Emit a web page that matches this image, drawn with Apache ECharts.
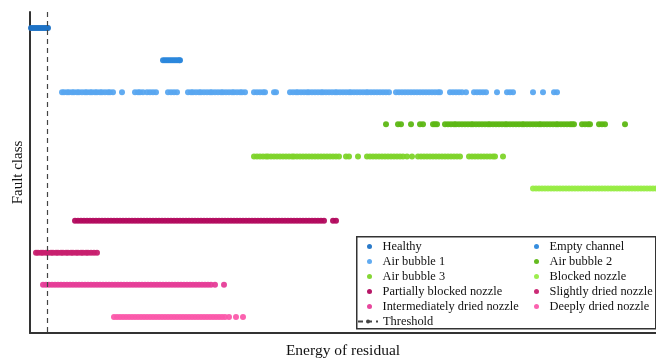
<!DOCTYPE html>
<html>
<head>
<meta charset="utf-8">
<script src="https://cdn.jsdelivr.net/npm/echarts@6/dist/echarts.min.js"></script>
<style>html,body{margin:0;padding:0;background:#fff}#c{width:656px;height:358px}</style>
</head>
<body>
<div id="c"></div>
<script>
const categories = ['Healthy','Empty channel','Air bubble 1','Air bubble 2','Air bubble 3','Blocked nozzle','Partially blocked nozzle','Slightly dried nozzle','Intermediately dried nozzle','Deeply dried nozzle'];
const colors = ['#1f73c6','#2b87dc','#58a6f0','#5db714','#7ed42a','#98ec45','#b20a5e','#c8206f','#e63d98','#fb5aab'];
const thresholdValues = [17];

const healthy = [1,3,5,7,9,11,13,15,17,18];
const emptyChannel = [133,135,137,139,141,143,145,147,149,150];
const airBubble1 = [32,34,37,39,42,44,47,49,52,55,57,60,62,65,67,70,72,75,78,80,83,92,105,108,110,113,117,120,123,126,138,141,144,147,158,161,163,166,169,171,174,177,180,182,185,188,191,193,196,199,202,204,207,210,212,215,224,227,230,233,235,244,246,260,263,266,268,271,274,277,279,282,285,288,291,293,296,299,302,305,307,310,313,316,319,321,324,327,330,333,336,338,341,344,347,350,353,356,359,366,369,372,375,378,381,384,387,390,393,396,399,402,405,408,410,420,423,426,429,432,436,444,447,450,453,456,467,477,480,483,503,513,524,527];
const airBubble2 = [356,368,371,381,390,393,403,405,407,415,418,421,424,426,429,432,435,438,441,443,446,449,452,455,458,460,463,466,469,472,475,477,480,483,486,489,492,494,497,500,503,506,509,511,514,517,520,523,526,528,531,534,537,540,542,544,552,555,558,560,569,572,575,595];
const airBubble3 = [224,227,230,233,236,238,241,244,247,250,253,256,259,262,264,267,270,273,276,279,282,285,288,291,294,297,300,303,306,309,316,319,328,337,340,343,346,349,352,355,358,361,364,367,370,373,377,382,388,391,394,397,400,403,406,409,412,415,418,421,424,427,430,439,442,445,448,451,454,457,460,463,465,473];
const blockedNozzle = [503,506,509,512,515,518,521,524,527,530,533,536,539,542,545,548,551,554,557,560,563,566,569,572,575,578,581,584,587,590,593,596,599,602,605,608,611,614,617,620,623,626];
const partiallyBlocked = [45,48,51,54,57,60,63,66,69,72,75,78,81,84,87,90,93,96,99,102,105,108,111,114,117,120,123,126,129,132,135,138,141,144,147,150,153,156,159,162,165,168,171,174,177,180,183,186,189,192,195,198,201,204,207,210,213,216,219,222,225,228,231,234,237,240,243,246,249,252,255,258,261,264,267,270,273,276,279,282,285,288,291,294,303,306];
const slightlyDried = [6,8,11,13,16,18,21,23,26,28,31,33,36,38,41,43,46,48,51,53,56,58,61,64,67];
const intermediatelyDried = [13,16,19,22,25,28,31,34,37,40,43,46,49,52,55,58,61,64,67,70,73,76,79,82,85,88,91,94,97,100,103,106,109,112,115,118,121,124,127,130,133,136,139,142,145,148,151,154,157,160,163,166,169,172,175,178,181,185,194];
const deeplyDried = [84,87,90,93,96,99,102,105,108,111,114,117,120,123,126,129,132,135,138,141,144,147,150,153,156,159,162,165,168,171,174,177,180,183,186,189,192,195,199,206,213];

const seriesValues = [healthy, emptyChannel, airBubble1, airBubble2, airBubble3, blockedNozzle, partiallyBlocked, slightlyDried, intermediatelyDried, deeplyDried];

const FONT = 'Liberation Serif';
const chart = echarts.init(document.getElementById('c'), null, {renderer: 'canvas'});

const scatterSeries = categories.map((name, i) => ({
  name: name,
  type: 'scatter',
  symbol: 'circle',
  symbolSize: 6,
  itemStyle: {color: colors[i], opacity: 0.95},
  data: seriesValues[i].map(v => [v, name])
}));

const legendCommon = {
  orient: 'vertical',
  itemWidth: 16,
  itemHeight: 5,
  itemGap: 0,
  icon: 'circle',
  textStyle: {fontFamily: FONT, fontSize: 12.4, color: '#111', lineHeight: 15},
  padding: 0
};

chart.setOption({
  animation: false,
  grid: {left: 30, right: 0, top: 12, bottom: 25, containLabel: false, outerBoundsMode: 'none'},
  xAxis: {
    type: 'value', min: 0, max: 626,
    name: 'Energy of residual', nameLocation: 'middle', nameGap: 10,
    nameTextStyle: {fontFamily: FONT, fontSize: 15.5, color: '#111'},
    axisLine: {show: true, lineStyle: {color: '#333', width: 2}},
    axisTick: {show: false}, axisLabel: {show: false}, splitLine: {show: false}
  },
  yAxis: {
    type: 'category', data: categories, inverse: true,
    name: 'Fault class', nameLocation: 'middle', nameGap: 4,
    nameTextStyle: {fontFamily: FONT, fontSize: 15, color: '#111'},
    axisLine: {show: true, lineStyle: {color: '#333', width: 2}},
    axisTick: {show: false}, axisLabel: {show: false}, splitLine: {show: false}
  },
  legend: [
    Object.assign({}, legendCommon, {left: 367, top: 239, data: ['Healthy','Air bubble 1','Air bubble 3','Partially blocked nozzle','Intermediately dried nozzle']}),
    Object.assign({}, legendCommon, {left: 534, top: 239, data: ['Empty channel','Air bubble 2','Blocked nozzle','Slightly dried nozzle','Deeply dried nozzle']}),
    Object.assign({}, legendCommon, {left: 357, top: 314, itemWidth: 20, itemGap: 0, icon: null, data: ['Threshold']})
  ],
  graphic: [{
    type: 'rect', left: 356, top: 236, z: -1,
    shape: {width: 299, height: 92},
    style: {fill: '#fff', stroke: '#333', lineWidth: 1.5}
  }],
  series: scatterSeries.concat([{
    name: 'Threshold',
    type: 'line',
    symbol: 'none',
    data: [],
    lineStyle: {type: [5, 4], color: '#444', width: 1.2},
    itemStyle: {color: '#444'},
    markLine: {
      silent: true, symbol: ['none', 'none'], label: {show: false},
      lineStyle: {type: [5, 4], color: '#444', width: 1.2},
      data: thresholdValues.map(v => ({xAxis: v}))
    }
  }])
});
</script>
</body>
</html>
